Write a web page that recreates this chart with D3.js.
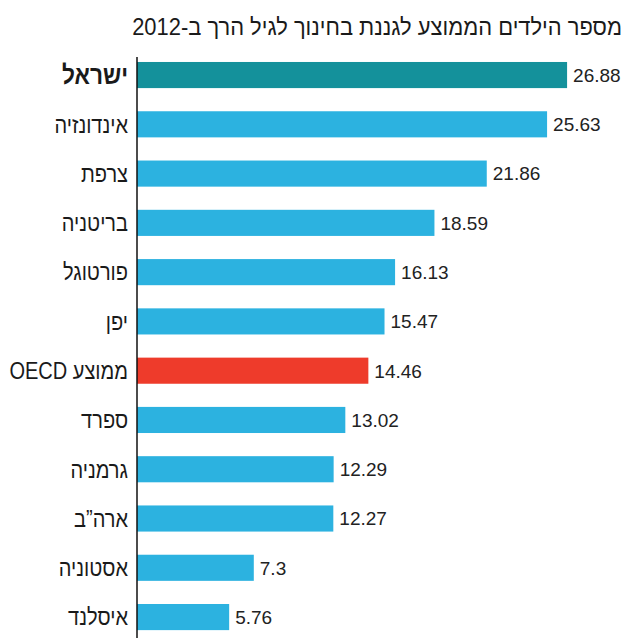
<!DOCTYPE html>
<html><head><meta charset="utf-8">
<script src="https://cdn.jsdelivr.net/npm/d3@7"></script>
<style>html,body{margin:0;padding:0;background:#fff;}svg{display:block;}</style>
</head><body>
<script>
const categories = ["ישראל","אינדונזיה","צרפת","בריטניה","פורטוגל","יפן","ממוצע OECD","ספרד","גרמניה","ארה”ב","אסטוניה","איסלנד"];
const values = [26.88,25.63,21.86,18.59,16.13,15.47,14.46,13.02,12.29,12.27,7.3,5.76];
const valueLabels = ["26.88","25.63","21.86","18.59","16.13","15.47","14.46","13.02","12.29","12.27","7.3","5.76"];
const highlight = ["ישראל"];
const average = ["ממוצע OECD"];
const title = "מספר הילדים הממוצע לגננת בחינוך לגיל הרך ב-2012";

const W = 627, H = 638;
const svg = d3.select("body").append("svg").attr("width", W).attr("height", H);
const data = categories.map((c,i)=>({c, v: values[i], l: valueLabels[i]}));

const x = d3.scaleLinear().domain([0,30]).range([137, 617]);
const y = d3.scaleBand().domain(categories).range([50.4, 641.7]).paddingInner(0.47).paddingOuter(0.235);

const heb = "Liberation Sans, Arial, sans-serif";

const t = svg.append("text").attr("x", 0).attr("y", 0)
  .style("direction","rtl").attr("text-anchor","start")
  .attr("font-family", heb).attr("font-size", 23)
  .attr("fill","#1a1a1a")
  .text(title);
const tl = t.node().getComputedTextLength();
const sx = Math.min(1, 490 / tl);
t.attr("transform", `translate(622,35) scale(${sx},1)`);

svg.selectAll("rect.bar").data(data).join("rect").attr("class","bar")
  .attr("x", x(0)).attr("y", d=>y(d.c))
  .attr("width", d=>x(d.v)-x(0)).attr("height", y.bandwidth())
  .attr("fill", d=> highlight.includes(d.c) ? "#14919b" : average.includes(d.c) ? "#ee3b2b" : "#2cb2e0");

svg.selectAll("text.val").data(data).join("text").attr("class","val")
  .attr("x", d=>x(d.v)+6).attr("y", d=>y(d.c)+y.bandwidth()/2).attr("dy","0.36em")
  .attr("font-family","Liberation Sans, Arial, sans-serif").attr("font-size", 19)
  .attr("fill","#222").text(d=>d.l);

svg.selectAll("text.cat").data(data).join("text").attr("class","cat")
  .attr("transform", d=>`translate(128,${y(d.c)+y.bandwidth()/2}) scale(0.87,1)`)
  .attr("x", 0).attr("y", 0).attr("dy","0.36em")
  .style("direction","rtl").attr("text-anchor","start")
  .attr("font-family", heb).attr("font-size", d=> highlight.includes(d.c) ? 26 : 23)
  .attr("font-weight", d=> highlight.includes(d.c) ? "bold" : "normal")
  .attr("fill","#1a1a1a").text(d=>d.c);

svg.append("line").attr("x1", x(0)).attr("x2", x(0)).attr("y1", 57).attr("y2", H)
  .attr("stroke","#111").attr("stroke-width",1.5);
</script>
</body></html>
